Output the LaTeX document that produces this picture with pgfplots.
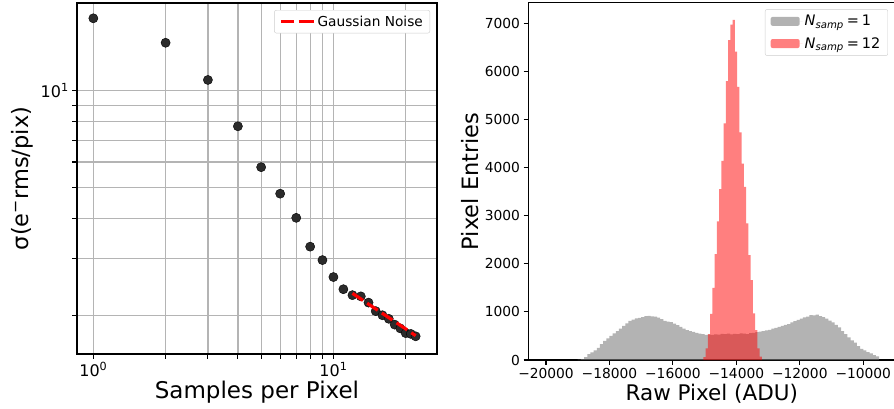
\documentclass[border=0pt]{standalone}
\usepackage{fontspec}
\setmainfont{DejaVu Sans}
\usepackage{pgfplots}
\pgfplotsset{compat=1.18}
\usepackage{pgfplotstable}
\definecolor{gridc}{HTML}{B4B4B4}
\definecolor{mgray}{HTML}{808080}
\definecolor{dotc}{HTML}{2B2B2B}

\pgfplotstableread{
N s
1 16.8
2 14.1
3 10.8
4 7.75
5 5.78
6 4.78
7 4.02
8 3.27
9 2.97
10 2.63
11 2.41
12 2.31
13 2.29
14 2.19
15 2.06
16 2.00
17 1.95
18 1.87
19 1.82
20 1.76
21 1.75
22 1.72
}\noisedata

% N_samp = 1 : left bin edge, entries (bin width 100 ADU)
\pgfplotstableread{
x y
-19000 10
-18900 20
-18800 60
-18700 120
-18600 160
-18500 200
-18400 250
-18300 330
-18200 400
-18100 450
-18000 500
-17900 555
-17800 600
-17700 650
-17600 710
-17500 760
-17400 815
-17300 840
-17200 865
-17100 875
-17000 890
-16900 910
-16800 915
-16700 905
-16600 900
-16500 880
-16400 850
-16300 815
-16200 800
-16100 790
-16000 755
-15900 725
-15800 690
-15700 650
-15600 620
-15500 600
-15400 585
-15300 565
-15200 550
-15100 540
-15000 525
-14900 530
-14800 520
-14700 535
-14600 530
-14500 545
-14400 540
-14300 550
-14200 535
-14100 545
-14000 540
-13900 555
-13800 550
-13700 540
-13600 560
-13500 565
-13400 580
-13300 590
-13200 600
-13100 615
-13000 625
-12900 650
-12800 670
-12700 690
-12600 710
-12500 730
-12400 745
-12300 780
-12200 810
-12100 835
-12000 860
-11900 885
-11800 900
-11700 935
-11600 930
-11500 945
-11400 910
-11300 890
-11200 860
-11100 820
-11000 780
-10900 730
-10800 680
-10700 600
-10600 540
-10500 470
-10400 410
-10300 360
-10200 290
-10100 230
-10000 200
-9900 165
-9800 140
-9700 100
-9600 75
-9500 75
}\histone

% N_samp = 12 : left bin edge, entries (bin width 71 ADU)
\pgfplotstableread{
x y
-15043 60
-14972 240
-14901 540
-14830 960
-14759 1500
-14688 2200
-14617 2880
-14546 3550
-14475 4140
-14404 4920
-14333 5800
-14262 6650
-14191 6970
-14120 7070
-14049 6410
-13978 5680
-13907 4730
-13836 4080
-13765 3600
-13694 2840
-13623 2180
-13552 1660
-13481 970
-13410 620
-13339 240
-13268 70
-13197 70
}\histtwelve

\begin{document}
\begin{tikzpicture}
\useasboundingbox (0pt,0pt) rectangle (894pt,408pt);

% ---------------- left panel ----------------
\begin{axis}[
  at={(77pt,54pt)}, anchor=south west,
  scale only axis, width=360pt, height=351pt,
  xmode=log, ymode=log,
  xmin=0.855, xmax=27, ymin=1.515, ymax=18.75,
  clip marker paths=true,
  axis line style={black, line width=1.1pt},
  every tick/.style={black, line width=1.1pt},
  tick pos=left, tick align=outside,
  major tick length=4.8pt,
  xmajorgrids, ymajorgrids,
  major grid style={gridc, line width=1.3pt},
  xtick={1,2,3,4,5,6,7,8,9,10,20},
  xticklabels={10\textsuperscript{0},,,,,,,,,10\textsuperscript{1},},
  ytick={2,3,4,5,6,7,8,9,10},
  yticklabels={,,,,,,,,10\textsuperscript{1}},
  tick label style={font=\fontsize{16}{16}\selectfont},
  xlabel={Samples per Pixel},
  xlabel style={font=\fontsize{23}{23}\selectfont, at={(axis description cs:0.5,-0.128)}, anchor=base},
  ylabel={σ(e\textsuperscript{−}rms/pix)},
  ylabel style={font=\fontsize{22.5}{22.5}\selectfont, at={(axis description cs:-0.136,0.5)}, anchor=base},
  legend style={at={(axis description cs:0.9806,0.980)}, anchor=north east,
    draw=black!20, rounded corners=2pt, fill=white,
    font=\fontsize{13.7}{13.7}\selectfont, inner xsep=5pt, inner ysep=3.5pt},
  legend cell align=left,
]
\addplot[only marks, mark=*, mark size=4.6pt, mark options={draw=none, fill=dotc}, forget plot] table[x=N, y=s] {\noisedata};
\addplot[color=red, line width=3.2pt, dash pattern=on 12.7pt off 5pt, mark=none,
  legend image code/.code={\draw[red, line width=3.2pt, dash pattern=on 12.7pt off 5pt] (0pt,0pt) -- (28pt,0pt); \path (28pt,0pt) -- (33pt,0pt);}]
  coordinates {(12,2.340) (13,2.248) (14,2.166) (15,2.093) (16,2.027) (17,1.966) (18,1.911) (19,1.860) (20,1.813) (21,1.769) (22,1.728)};
\addlegendentry{Gaussian Noise}
\end{axis}

% ---------------- right panel ----------------
\begin{axis}[
  at={(528.3pt,48pt)}, anchor=south west,
  scale only axis, width=367pt, height=357.3pt,
  xmin=-20558, xmax=-8990, ymin=0, ymax=7428,
  axis line style={black, line width=1.1pt},
  every tick/.style={black, line width=1.1pt},
  tick pos=left, tick align=outside,
  major tick length=4.8pt,
  scaled ticks=false,
  xtick={-20000,-18000,-16000,-14000,-12000,-10000},
  xticklabels={−20000,−18000,−16000,−14000,−12000,−10000},
  ytick={0,1000,2000,3000,4000,5000,6000,7000},
  yticklabels={0,1000,2000,3000,4000,5000,6000,7000},
  tick label style={font=\fontsize{13.8}{13.8}\selectfont},
  xlabel={Raw Pixel (ADU)},
  xlabel style={font=\fontsize{21.5}{21.5}\selectfont, at={(axis description cs:0.5,-0.112)}, anchor=base},
  ylabel={Pixel Entries},
  ylabel style={font=\fontsize{22.5}{22.5}\selectfont, at={(axis description cs:-0.136,0.5)}, anchor=base},
  legend style={at={(axis description cs:0.980,0.982)}, anchor=north east,
    draw=black!20, rounded corners=2pt, fill=white,
    font=\fontsize{14.5}{14.5}\selectfont, inner xsep=5.5pt, inner ysep=4pt, row sep=6pt},
  legend cell align=left,
]
\addplot[const plot, draw=none, fill=mgray, fill opacity=0.6,
  legend image code/.code={\fill[mgray, fill opacity=0.6] (0pt,-4.5pt) rectangle (29pt,4.5pt); \path (29pt,0pt) -- (32pt,0pt);}]
  table[x=x, y=y] {\histone} \closedcycle;
\addlegendentry{\textit{N}\textsubscript{\textit{samp}}\hspace{0.2em}=\hspace{0.2em}1}
\addplot[const plot, draw=none, fill=red, fill opacity=0.5,
  legend image code/.code={\fill[red, fill opacity=0.5] (0pt,-4.5pt) rectangle (29pt,4.5pt); \path (29pt,0pt) -- (32pt,0pt);}]
  table[x=x, y=y] {\histtwelve} \closedcycle;
\addlegendentry{\textit{N}\textsubscript{\textit{samp}}\hspace{0.2em}=\hspace{0.2em}12}
\end{axis}
\end{tikzpicture}
\end{document}
